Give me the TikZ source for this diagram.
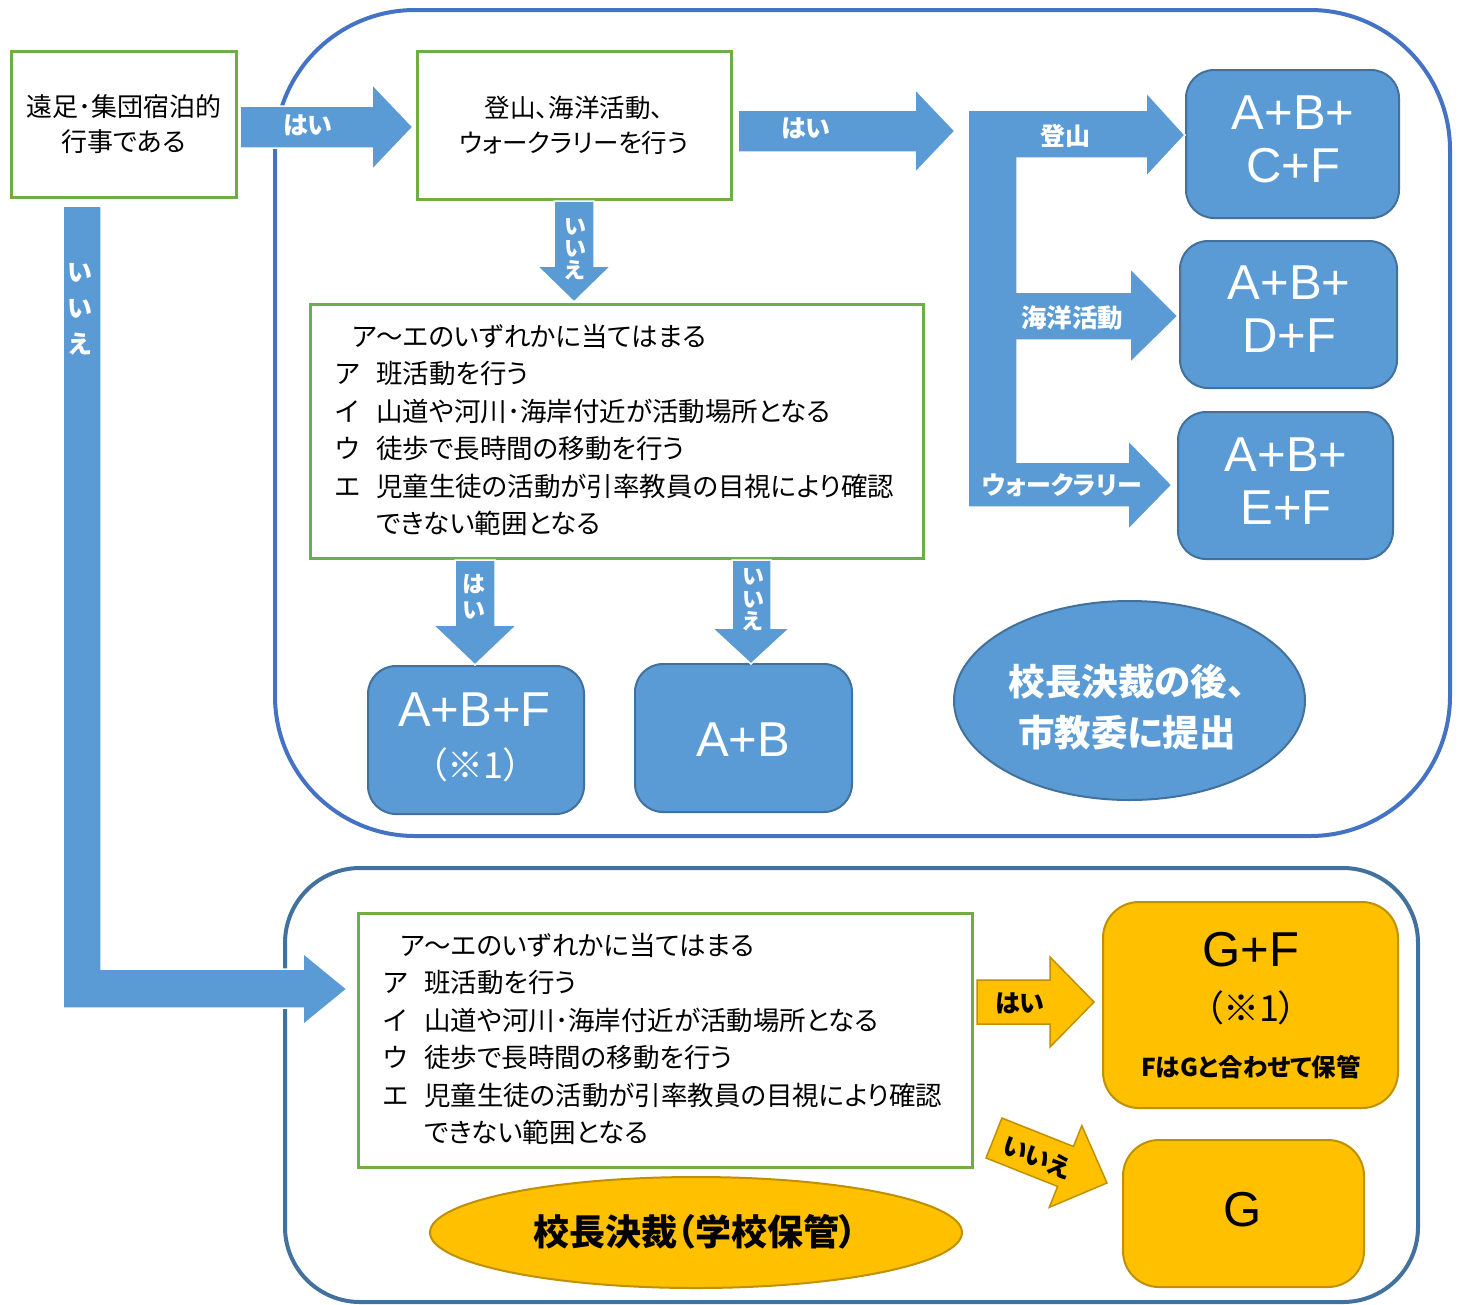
\documentclass[tikz,border=0pt]{standalone}
\usepackage{fontspec}
\setmainfont{Liberation Sans}
\newfontfamily\jp[RawFeature=+palt]{Noto Sans CJK JP}
\usetikzlibrary{shapes.geometric}
\definecolor{bfill}{HTML}{5B9BD5}
\definecolor{bline}{HTML}{41719C}
\definecolor{gline}{HTML}{70AD47}
\definecolor{frameA}{HTML}{4472C4}
\definecolor{frameB}{HTML}{41719C}
\definecolor{yfill}{HTML}{FFC000}
\definecolor{yline}{HTML}{BF9000}
\newcommand{\myfs}[2]{\fontsize{#1}{#2}\selectfont}
\begin{document}
\begin{tikzpicture}[x=1pt,y=-1pt,
  frame/.style={line width=4pt, inner sep=0pt},
  greenbox/.style={draw=gline, line width=3pt, fill=white, inner sep=0pt},
  resbox/.style={draw=bline, line width=2pt, fill=bfill, rounded corners=28pt, inner sep=0pt},
  ybox/.style={draw=yline, line width=2pt, fill=yfill, rounded corners=36pt, inner sep=0pt},
  blockarrow/.style={fill=bfill, draw=white, line width=1.5pt},
  yarrow/.style={fill=yfill, draw=yline, line width=1.5pt},
  jpbody/.style={font=\jp\myfs{26.5}{37.5}, align=left, inner sep=0pt},
  wlab/.style={font=\jp\bfseries\myfs{25}{25}, text=white, inner sep=0pt, align=center},
  klab/.style={font=\jp\bfseries\myfs{25}{25}, text=black, inner sep=0pt, align=center},
  wbig/.style={font=\myfs{49}{53}, text=white, inner sep=0pt, align=center},
  kbig/.style={font=\myfs{49}{53}, text=black, inner sep=0pt, align=center}
]
\useasboundingbox (0,0) rectangle (1464,1304);

% frames
\node[frame, draw=frameA, rounded corners=140pt, minimum width=1175pt, minimum height=826pt] (ftop) at (862.5,423) {};
\node[frame, draw=frameB, rounded corners=75pt, minimum width=1133pt, minimum height=434pt] (fbot) at (851.5,1085) {};

% question boxes
\node[greenbox, font=\jp\myfs{26}{35}, align=center, minimum width=225pt, minimum height=146pt] (q1) at (123.5,124) {遠足･集団宿泊的\\行事である};
\node[greenbox, font=\jp\myfs{25.5}{35}, align=center, minimum width=314pt, minimum height=148pt] (q2) at (574,125) {登山、海洋活動、\\ウォークラリーを行う};
\node[greenbox, minimum width=613pt, minimum height=254pt] (q3) at (616.5,431) {};
\node[jpbody, anchor=west] (q3t) at (335,430) {\hspace*{17pt}ア～エのいずれかに当てはまる\\%
\makebox[41pt][l]{ア}班活動を行う\\%
\makebox[41pt][l]{イ}山道や河川･海岸付近が活動場所となる\\%
\makebox[41pt][l]{ウ}徒歩で長時間の移動を行う\\%
\makebox[41pt][l]{エ}児童生徒の活動が引率教員の目視により確認\\%
\hspace*{41pt}できない範囲となる};
\node[greenbox, minimum width=614pt, minimum height=254pt] (q4) at (665,1040) {};
\node[jpbody, anchor=west] (q4t) at (383,1039) {\hspace*{17pt}ア～エのいずれかに当てはまる\\%
\makebox[41pt][l]{ア}班活動を行う\\%
\makebox[41pt][l]{イ}山道や河川･海岸付近が活動場所となる\\%
\makebox[41pt][l]{ウ}徒歩で長時間の移動を行う\\%
\makebox[41pt][l]{エ}児童生徒の活動が引率教員の目視により確認\\%
\hspace*{41pt}できない範囲となる};

% result boxes (blue)
\node[resbox, minimum width=213pt, minimum height=148pt] (r1) at (1292.5,144) {};
\node[resbox, minimum width=217pt, minimum height=147pt] (r2) at (1288.5,314.5) {};
\node[resbox, minimum width=215pt, minimum height=147pt] (r3) at (1285.5,485.5) {};
\node[resbox, minimum width=216pt, minimum height=148pt] (r4) at (476,740) {};
\node[resbox, minimum width=217pt, minimum height=148pt] (r5) at (743.5,738) {};
\node[wbig] (r1t) at (1293,139) {A+B+\\C+F};
\node[wbig] (r2t) at (1289,309.5) {A+B+\\D+F};
\node[wbig] (r3t) at (1286,481) {A+B+\\E+F};
\node[wbig] (r4t) at (474.5,710) {A+B+F};
\node[font=\jp\myfs{36}{36}, text=white, inner sep=0pt] (r4n) at (475.5,765) {（※1）};
\node[wbig] (r5t) at (743,740) {A+B};

% blue ellipse
\node[ellipse, draw=bline, line width=2pt, fill=bfill, minimum width=351pt, minimum height=199pt, inner sep=0pt] (e1) at (1129.5,700.5) {};
\node[font=\jp\bfseries\myfs{36.5}{51}, text=white, align=center, inner sep=0pt] (e1t) at (1127,707) {校長決裁の後、\\市教委に提出};

% yellow boxes
\node[ybox, minimum width=295pt, minimum height=206pt] (g1) at (1250.5,1005) {};
\node[ybox, minimum width=241pt, minimum height=147pt] (g2) at (1243.5,1213.5) {};
\node[kbig] (g1t) at (1251,949.5) {G+F};
\node[font=\jp\myfs{36}{36}, text=black, inner sep=0pt] (g1n) at (1251,1008) {（※1）};
\node[font=\jp\bfseries\myfs{24.5}{24.5}, text=black, inner sep=0pt] (g1s) at (1251,1067) {FはGと合わせて保管};
\node[kbig] (g2t) at (1243,1210) {G};

% yellow ellipse
\node[ellipse, draw=yline, line width=2pt, fill=yfill, minimum width=532pt, minimum height=111pt, inner sep=0pt] (e2) at (696,1232.5) {};
\node[font=\jp\bfseries\myfs{36}{36}, text=black, inner sep=0pt] (e2t) at (695,1232) {校長決裁（学校保管）};

% blue block arrows
\draw[blockarrow] (240,106) -- (372,106) -- (372,84) -- (413,127) -- (372,170) -- (372,148) -- (240,148) -- cycle;
\draw[blockarrow] (738,110) -- (915,110) -- (915,89) -- (955,131) -- (915,173) -- (915,152) -- (738,152) -- cycle;
\draw[blockarrow] (968,110) -- (1146,110) -- (1146,92) -- (1185,135) -- (1146,177) -- (1146,158) -- (1017,158)
  -- (1017,292) -- (1130,292) -- (1130,268) -- (1178,316) -- (1130,363) -- (1130,340) -- (1017,340)
  -- (1017,462) -- (1128,462) -- (1128,440) -- (1172,485) -- (1128,530) -- (1128,507) -- (968,507) -- cycle;
\draw[blockarrow] (554,201) -- (594,201) -- (594,266) -- (611,266) -- (574,302) -- (537,266) -- (554,266) -- cycle;
\draw[blockarrow] (455,560) -- (495,560) -- (495,625) -- (517,625) -- (475,665) -- (433,625) -- (455,625) -- cycle;
\draw[blockarrow] (732,560) -- (771,560) -- (771,628) -- (790,628) -- (751,664) -- (712,628) -- (732,628) -- cycle;
\draw[blockarrow] (63,206) -- (101,206) -- (101,969) -- (303,969) -- (303,953) -- (347,989) -- (303,1025) -- (303,1008) -- (63,1008) -- cycle;

% blue arrow labels
\node[wlab] (l1) at (308,125) {はい};
\node[wlab] (l2) at (806,128) {はい};
\node[wlab, font=\jp\bfseries\myfs{25}{25}] (l3) at (1065,136) {登山};
\node[wlab, font=\jp\bfseries\myfs{25.5}{25.5}] (l4) at (1072,318) {海洋活動};
\node[wlab, font=\jp\bfseries\myfs{25}{25}] (l5) at (1062,485) {ウォークラリー};
\node[wlab, font=\jp\bfseries\myfs{22}{22}] (l6) at (575,249) {い\\い\\え};
\node[wlab, font=\jp\bfseries\myfs{23}{26}] (l7) at (474,597) {は\\い};
\node[wlab, font=\jp\bfseries\myfs{22}{22.5}] (l8) at (753,600) {い\\い\\え};
\node[wlab, font=\jp\bfseries\myfs{25}{36}] (l9) at (80,309) {い\\い\\え};

% yellow arrows
\draw[yarrow] (977,980) -- (1050,980) -- (1050,957) -- (1094,1002) -- (1050,1047) -- (1050,1024) -- (977,1024) -- cycle;
\node[klab] (y1) at (1020,1003) {はい};
\begin{scope}[shift={(994,1138)}, rotate=-21.7]
\draw[yarrow] (0,-21.5) -- (77,-21.5) -- (77,-44) -- (121.6,0) -- (77,44) -- (77,21.5) -- (0,21.5) -- cycle;
\node[klab, rotate=-21.7] (y2) at (47,2) {いいえ};
\end{scope}
\end{tikzpicture}
\end{document}
